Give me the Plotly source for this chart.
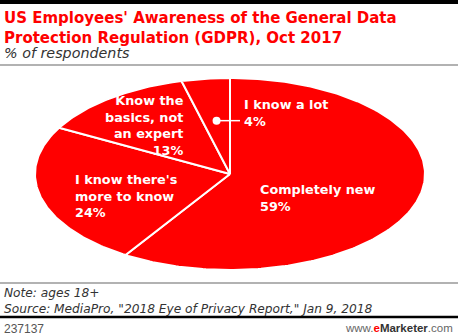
import numpy as np
import plotly.graph_objects as go

# ---- data ----
categories = ["Completely new", "I know there's more to know", "Know the basics, not an expert", "I know a lot"]
values = [59, 24, 13, 4]
label_text = ["Completely new<br>59%", "I know there's<br>more to know<br>24%",
              "Know the<br>basics, not<br>an expert<br>13%", "I know a lot<br>4%"]

title = "US Employees' Awareness of the General Data<br>Protection Regulation (GDPR), Oct 2017"
subtitle = "% of respondents"
note = "Note: ages 18+"
source = 'Source: MediaPro, "2018 Eye of Privacy Report," Jan 9, 2018'
chart_id = "237137"

W, H = 458, 335
RED = "#FF0000"
FONT = "DejaVu Sans"

# ellipse geometry (pixel space)
cx, cy, rx, ry = 230, 174, 195, 96

fig = go.Figure()
total = sum(values)
start = 0.0
mids = []
for cat, v in zip(categories, values):
    a0 = start / total * 2 * np.pi
    a1 = (start + v) / total * 2 * np.pi
    th = np.linspace(a0, a1, max(8, int(v * 4)))
    xs = np.concatenate([[cx], cx + rx * np.sin(th), [cx]])
    ys = np.concatenate([[cy], cy - ry * np.cos(th), [cy]])
    fig.add_trace(go.Scatter(x=xs, y=ys, mode="lines", fill="toself", fillcolor=RED,
                             line=dict(color="white", width=2), name=cat,
                             hoverinfo="skip", showlegend=False))
    mids.append((a0 + a1) / 2)
    start += v

# leader for small slice
a_small = mids[3]
dot_x = cx + 0.55 * rx * np.sin(a_small)
dot_y = cy - 0.56 * ry * np.cos(a_small)
fig.add_trace(go.Scatter(x=[dot_x, 240], y=[dot_y, dot_y], mode="lines",
                         line=dict(color="white", width=1.5), hoverinfo="skip", showlegend=False))
fig.add_trace(go.Scatter(x=[dot_x], y=[dot_y], mode="markers",
                         marker=dict(color="white", size=8), hoverinfo="skip", showlegend=False))

lab_font = dict(family=FONT, size=12.8, color="white")
ann = []
# slice labels
ann.append(dict(x=258, y=198, text="<b>" + label_text[0] + "</b>", xanchor="left", yanchor="middle", align="left"))
ann.append(dict(x=73, y=196, text="<b>" + label_text[1] + "</b>", xanchor="left", yanchor="middle", align="left"))
ann.append(dict(x=186, y=125, text="<b>" + label_text[2] + "</b>", xanchor="right", yanchor="middle", align="right"))
ann.append(dict(x=242, y=113, text="<b>" + label_text[3] + "</b>", xanchor="left", yanchor="middle", align="left"))
for a in ann:
    a.update(xref="x", yref="y", showarrow=False, font=lab_font)

# header / footer texts
ann.append(dict(x=2, y=7, xref="x", yref="y", text="<b>" + title + "</b>", xanchor="left", yanchor="top",
                align="left", showarrow=False, font=dict(family=FONT, size=15, color=RED)))
ann.append(dict(x=2, y=43, xref="x", yref="y", text="<i>" + subtitle + "</i>", xanchor="left", yanchor="top",
                align="left", showarrow=False, font=dict(family=FONT, size=14.3, color="#333333")))
ann.append(dict(x=2, y=284, xref="x", yref="y", text="<i>" + note + "<br>" + source + "</i>", xanchor="left",
                yanchor="top", align="left", showarrow=False, font=dict(family=FONT, size=12.2, color="#333333")))
ann.append(dict(x=2, y=320, xref="x", yref="y", text=chart_id, xanchor="left", yanchor="top",
                showarrow=False, font=dict(family="Liberation Sans", size=12, color="#555555")))
ann.append(dict(x=455, y=320, xref="x", yref="y",
                text="<span style='color:#666'>www.</span><b><span style='color:#FF0000'>e</span><span style='color:#333'>Marketer</span></b><span style='color:#666'>.com</span>",
                xanchor="right", yanchor="top", showarrow=False, font=dict(family="Liberation Sans", size=11.5)))

shapes = [
    dict(type="rect", x0=0, x1=W, y0=0, y1=4, fillcolor="black", line_width=0),
    dict(type="line", x0=0, x1=W, y0=65, y1=65, line=dict(color="#999999", width=1.5)),
    dict(type="line", x0=0, x1=W, y0=283, y1=283, line=dict(color="#999999", width=1.5)),
    dict(type="line", x0=0, x1=W, y0=317, y1=317, line=dict(color="black", width=2.5)),
]
for s in shapes:
    s.update(xref="x", yref="y", layer="below")

fig.update_layout(
    width=W, height=H, margin=dict(l=0, r=0, t=0, b=0),
    paper_bgcolor="white", plot_bgcolor="white",
    xaxis=dict(range=[0, W], visible=False, fixedrange=True),
    yaxis=dict(range=[H, 0], visible=False, fixedrange=True),
    annotations=ann, shapes=shapes, showlegend=False,
)
fig.write_html("out.html", config={"displayModeBar": False})
